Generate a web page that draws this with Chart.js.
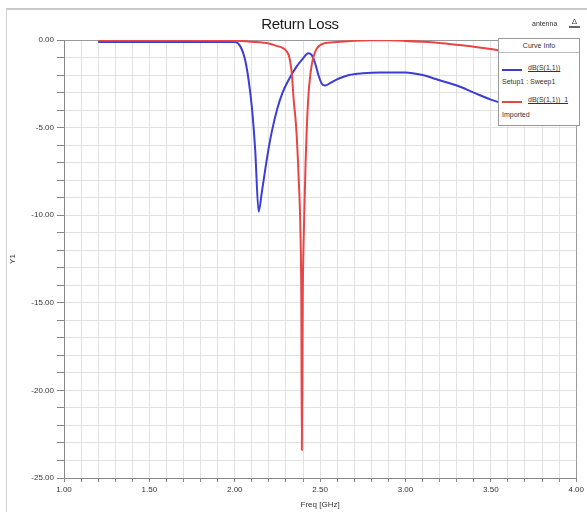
<!DOCTYPE html>
<html>
<head>
<meta charset="utf-8">
<script src="https://cdn.jsdelivr.net/npm/chart.js@4/dist/chart.umd.min.js"></script>
<style>
  html,body{margin:0;padding:0;background:#fff;}
  #wrap{position:relative;width:587px;height:512px;overflow:hidden;font-family:"Liberation Sans",Arial,sans-serif;}
  #frame{position:absolute;left:6px;top:8px;width:590px;height:520px;border-top:2px solid #c9c9c9;border-left:1px solid #d0d0d0;}
  #c{position:absolute;left:0;top:0;}
  #title{position:absolute;left:240px;width:120px;top:15px;text-align:center;font-size:15px;color:#1a1a1a;letter-spacing:-0.3px;}
  #proj{position:absolute;left:532px;top:20px;font-size:7px;color:#333;}
  #icon{position:absolute;left:569px;top:17px;font-size:8px;color:#444;border-bottom:2px solid #666;line-height:9px;width:11px;text-align:center;}
  #legend{position:absolute;left:498px;top:38px;width:82px;height:88px;background:#fff;border:1px solid #9a9a9a;box-sizing:border-box;font-size:7px;color:#333;}
  #legend .hd{position:absolute;left:0;width:100%;top:3px;text-align:center;border-bottom:1px solid #bbb;padding-bottom:3px;}
  #legend .sw{position:absolute;left:3px;width:20px;height:2px;}
  #legend .nm{position:absolute;left:29px;text-decoration:underline;}
  #legend .sub{position:absolute;left:3px;}
</style>
</head>
<body>
<div id="wrap">
  <div id="frame"></div>
  <canvas id="c" width="587" height="512"></canvas>
  <div id="title">Return Loss</div>
  <div id="proj">antenna</div>
  <div id="icon">Δ</div>
  <div id="legend">
    <div class="hd">Curve Info</div>
    <div class="sw" style="top:30px;background:rgb(60,60,215)"></div>
    <div class="nm" style="top:25px">dB(S(1,1))</div>
    <div class="sub" style="top:39px">Setup1 : Sweep1</div>
    <div class="sw" style="top:62px;background:rgb(232,70,70)"></div>
    <div class="nm" style="top:57px">dB(S(1,1))_1</div>
    <div class="sub" style="top:72px">Imported</div>
  </div>
</div>
<script>
// ---- data ----
const freqBlue = [1.20, 1.50, 1.80, 2.00, 2.02, 2.04, 2.06, 2.08, 2.10, 2.12, 2.14, 2.16, 2.18, 2.20, 2.22, 2.25, 2.28, 2.32, 2.36, 2.40, 2.43, 2.45, 2.47, 2.49, 2.51, 2.53, 2.56, 2.61, 2.67, 2.75, 2.85, 3.00, 3.10, 3.20, 3.30, 3.40, 3.50, 3.60, 3.70, 3.80, 3.90, 4.00];
const s11Blue  = [-0.12, -0.12, -0.12, -0.12, -0.2, -0.5, -1.1, -2.2, -3.8, -6.3, -9.8, -8.6, -7.3, -6.1, -5.1, -3.9, -3.0, -2.2, -1.55, -1.05, -0.75, -0.85, -1.3, -2.0, -2.5, -2.6, -2.45, -2.2, -2.0, -1.9, -1.85, -1.85, -2.0, -2.3, -2.6, -3.0, -3.4, -3.7, -3.9, -4.0, -4.1, -4.2];

const freqRed = [1.20, 1.50, 1.80, 2.00, 2.10, 2.20, 2.25, 2.28, 2.30, 2.32, 2.335, 2.345, 2.36, 2.375, 2.385, 2.39, 2.393, 2.398, 2.405, 2.415, 2.43, 2.445, 2.46, 2.48, 2.52, 2.60, 2.70, 2.80, 2.90, 3.00, 3.10, 3.20, 3.30, 3.40, 3.50, 3.60, 3.70, 3.80, 3.90, 4.00];
const s11Red  = [-0.03, -0.03, -0.03, -0.04, -0.1, -0.2, -0.35, -0.45, -0.6, -1.0, -2.0, -3.4, -5.0, -8.0, -11.0, -15.0, -23.4, -15.0, -10.8, -7.0, -3.4, -1.8, -1.0, -0.5, -0.2, -0.12, -0.05, -0.02, -0.02, -0.05, -0.1, -0.17, -0.27, -0.38, -0.52, -0.7, -0.9, -1.1, -1.35, -1.6];

const xTickLabels = ['1.00', '1.50', '2.00', '2.50', '3.00', '3.50', '4.00'];
const yTickLabels = ['0.00', '-5.00', '-10.00', '-15.00', '-20.00', '-25.00'];
const seriesNames = ['dB(S(1,1))', 'dB(S(1,1))_1'];

const toPts = (xs, ys) => xs.map((x, i) => ({x: x, y: ys[i]}));
const labelFor = (v, labels) => {
  const s = labels.find(l => Math.abs(parseFloat(l) - v) < 1e-6);
  return s === undefined ? '' : s;
};

const FONT = {family: '"Liberation Sans", Arial, sans-serif', size: 8};

new Chart(document.getElementById('c'), {
  type: 'line',
  data: {
    datasets: [
      {label: seriesNames[1], data: toPts(freqRed, s11Red), borderColor: 'rgb(232,70,70)', borderWidth: 2, pointRadius: 0, cubicInterpolationMode: 'monotone'},
      {label: seriesNames[0], data: toPts(freqBlue, s11Blue), borderColor: 'rgb(60,60,215)', borderWidth: 2, pointRadius: 0, cubicInterpolationMode: 'monotone'}
    ]
  },
  options: {
    responsive: false,
    animation: false,
    layout: {padding: {left: 6, right: 8, top: 40, bottom: 2}},
    plugins: {legend: {display: false}, title: {display: false}, tooltip: {enabled: false}},
    scales: {
      x: {
        type: 'linear', min: 1, max: 4,
        ticks: {stepSize: 0.1, autoSkip: false, maxRotation: 0, minRotation: 0, padding: 3, color: '#333', font: FONT,
                callback: v => labelFor(v, xTickLabels)},
        grid: {color: ctx => Math.abs(ctx.tick.value - 4) < 1e-6 ? '#9a9a9a' : '#e2e2e2', tickLength: 4, tickColor: '#888'},
        border: {color: '#888', width: 1},
        title: {display: true, text: 'Freq [GHz]', color: '#333', font: FONT, padding: {top: 0, bottom: 0}},
        afterFit: s => { s.height = 32; }
      },
      y: {
        min: -25, max: 0,
        ticks: {stepSize: 1, autoSkip: false, padding: 3, color: '#333', font: FONT,
                callback: v => labelFor(v, yTickLabels)},
        grid: {color: ctx => Math.abs(ctx.tick.value) < 1e-6 ? '#9a9a9a' : '#e2e2e2', tickLength: 7, tickColor: '#888'},
        border: {color: '#888', width: 1},
        title: {display: true, text: 'Y1', color: '#333', font: FONT, padding: {top: 2, bottom: 0}},
        afterFit: s => { s.width = 58; }
      }
    }
  }
});
</script>
</body>
</html>
